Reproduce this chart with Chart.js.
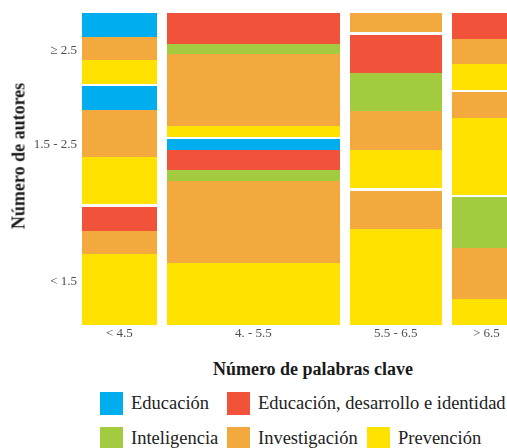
<!DOCTYPE html>
<html>
<head>
<meta charset="utf-8">
<script src="https://cdn.jsdelivr.net/npm/chart.js@4.4.1/dist/chart.umd.min.js"></script>
<style>
  html, body { margin: 0; padding: 0; background: #fff; overflow: hidden; }
  #wrap { position: relative; width: 507px; height: 448px; overflow: hidden; background: #fff; }
  #c { position: absolute; left: 0; top: 0; }
  .axis-title { position: absolute; font-family: "Liberation Serif", "DejaVu Serif", serif; font-weight: bold; font-size: 18px; color: #1a1a1a; white-space: nowrap; }
  #ytitle { left: 18.5px; top: 156px; transform: translate(-50%, -50%) rotate(-90deg); }
  #xtitle { left: 313px; top: 369px; transform: translate(-50%, -50%); }
  #legend { position: absolute; left: 100px; top: 392px; display: grid; grid-template-columns: 127px 140px auto; row-gap: 12px; font-family: "Liberation Serif", "DejaVu Serif", serif; font-size: 18.5px; color: #222; }
  .item { display: flex; align-items: center; height: 23px; white-space: nowrap; }
  .box { width: 23px; height: 23px; margin-right: 8px; flex: none; }
</style>
</head>
<body>
<div id="wrap">
  <canvas id="c" width="521" height="345"></canvas>
  <div id="ytitle" class="axis-title">Número de autores</div>
  <div id="xtitle" class="axis-title">Número de palabras clave</div>
  <div id="legend"></div>
</div>
<script>
// ---- data ----
const keywordBins = ['< 4.5', '4. - 5.5', '5.5 - 6.5', '> 6.5'];
const authorBins = ['< 1.5', '1.5 - 2.5', '≥ 2.5'];
const topics = ['Educación', 'Educación, desarrollo e identidad', 'Inteligencia', 'Investigación', 'Prevención'];
// counts per keyword bin, each as [< 1.5, 1.5 - 2.5, ≥ 2.5] authors
const educacion           = [[0, 1, 1], [1, 0, 0], [0, 0, 0], [0, 0, 0]];
const educacionDesarrollo = [[1, 0, 0], [2, 0, 3], [0, 2, 0], [0, 0, 1]];
const inteligencia        = [[0, 0, 0], [1, 0, 1], [0, 2, 0], [2, 0, 0]];
const investigacion       = [[1, 2, 1], [8, 0, 7], [2, 2, 1], [2, 1, 1]];
const prevencion          = [[3, 2, 1], [6, 0, 1], [5, 2, 0], [1, 3, 1]];

// ---- styles ----
const topicColors = ['#00AEEF', '#F0533A', '#A3CB3F', '#F4A93F', '#FFE200'];
const X_GAP = 1.735;   // spacing between columns (in article units)
const Y_GAP = 0.008;   // spacing between author blocks (proportion)
const authorTickAt = [0.138, 0.577, 0.881];

// ---- mosaic layout from counts ----
const series = [educacion, educacionDesarrollo, inteligencia, investigacion, prevencion];
const colTotals = keywordBins.map((_, c) =>
  series.reduce((s, t) => s + t[c].reduce((a, b) => a + b, 0), 0));
const rects = [];
const xCenters = [];
let xStart = 0;
keywordBins.forEach((_, c) => {
  const w = colTotals[c];
  const blockTotals = authorBins.map((_, a) => series.reduce((s, t) => s + t[c][a], 0));
  const nonEmpty = blockTotals.filter(v => v > 0).length;
  const usable = 1 - Y_GAP * (nonEmpty - 1);
  let yPos = 0;
  authorBins.forEach((_, a) => {
    if (!blockTotals[a]) return;
    for (let t = series.length - 1; t >= 0; t--) {
      const n = series[t][c][a];
      if (!n) continue;
      const h = n / w * usable;
      rects.push({ x0: xStart, x1: xStart + w, y0: yPos, y1: yPos + h, color: topicColors[t] });
      yPos += h;
    }
    yPos += Y_GAP;
  });
  xCenters.push(xStart + w / 2);
  xStart += w + X_GAP;
});
const xMax = xStart - X_GAP;

const mosaicPlugin = {
  id: 'mosaic',
  beforeDatasetsDraw(chart) {
    const { ctx, chartArea, scales: { x, y } } = chart;
    ctx.save();
    ctx.beginPath();
    ctx.rect(chartArea.left, chartArea.top, chartArea.width, chartArea.height);
    ctx.clip();
    rects.forEach(r => {
      const px0 = Math.round(x.getPixelForValue(r.x0));
      const px1 = Math.round(x.getPixelForValue(r.x1));
      const py0 = Math.round(y.getPixelForValue(r.y0));
      const py1 = Math.round(y.getPixelForValue(r.y1));
      ctx.fillStyle = r.color;
      ctx.fillRect(px0, py1, px1 - px0, py0 - py1);
    });
    ctx.restore();
  }
};

const tickFont = { family: "'Liberation Serif', 'DejaVu Serif', serif", size: 13 };
Chart.defaults.font.family = "'Liberation Serif', 'DejaVu Serif', serif";

new Chart(document.getElementById('c'), {
  type: 'scatter',
  data: { datasets: [] },
  options: {
    responsive: false,
    animation: false,
    layout: { padding: { top: 13, left: 0, right: 0, bottom: 0 } },
    plugins: { legend: { display: false }, tooltip: { enabled: false } },
    scales: {
      x: {
        type: 'linear', min: 0, max: xMax,
        grid: { display: false, drawTicks: false }, border: { display: false },
        afterFit: s => { s.height = 20; },
        afterBuildTicks: s => { s.ticks = xCenters.map(v => ({ value: v })); },
        ticks: { padding: 1, font: tickFont, color: '#4d4d4d', autoSkip: false, maxRotation: 0,
                 callback: (v, i) => keywordBins[i] }
      },
      y: {
        type: 'linear', min: 0, max: 1,
        grid: { display: false, drawTicks: false }, border: { display: false },
        afterFit: s => { s.width = 82; },
        afterBuildTicks: s => { s.ticks = authorTickAt.map(v => ({ value: v })); },
        ticks: { padding: 5, font: tickFont, color: '#4d4d4d', autoSkip: false,
                 callback: (v, i) => authorBins[i] }
      }
    }
  },
  plugins: [mosaicPlugin]
});

// ---- legend ----
const legend = document.getElementById('legend');
topics.forEach((name, i) => {
  const item = document.createElement('div');
  item.className = 'item';
  if (i === 1) item.style.gridColumn = '2 / span 2';
  if (i === 2) item.style.gridColumn = '1';
  const box = document.createElement('span');
  box.className = 'box';
  box.style.background = topicColors[i];
  const label = document.createElement('span');
  label.textContent = name;
  item.appendChild(box);
  item.appendChild(label);
  legend.appendChild(item);
});
</script>
</body>
</html>
